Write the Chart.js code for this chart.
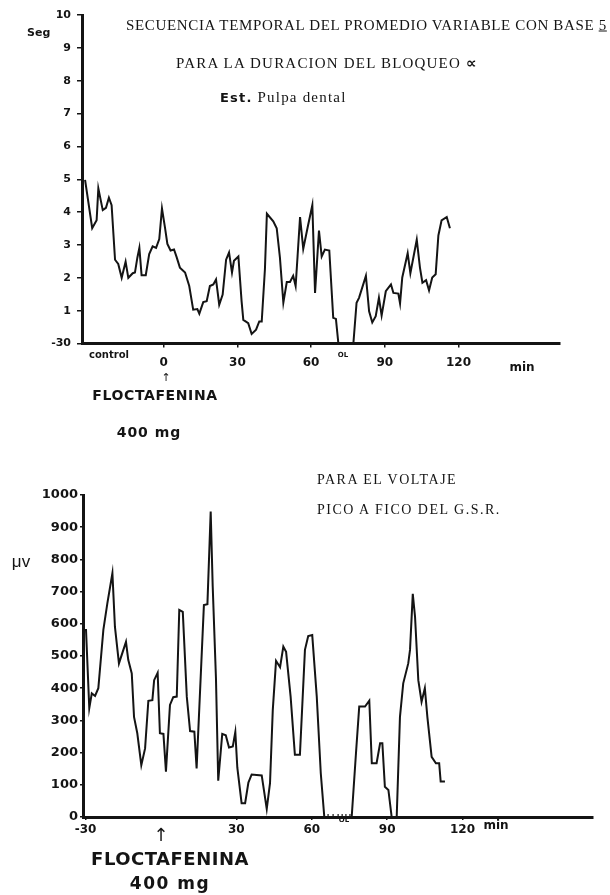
<!DOCTYPE html>
<html>
<head>
<meta charset="utf-8">
<script src="https://cdn.jsdelivr.net/npm/chart.js@4/dist/chart.umd.min.js"></script>
<style>
  html, body { margin: 0; padding: 0; background: #fff; }
  #page { position: relative; width: 610px; height: 895px; overflow: hidden; background: #fff; }
  canvas { position: absolute; left: 0; }
  .t { position: absolute; white-space: nowrap; color: #141414; line-height: 1; }
  .c { transform: translate(-50%, -50%); }
  .l { transform: translate(0, -50%); }
  .serif { font-family: "Liberation Serif", "DejaVu Serif", serif; }
  .sans { font-family: "DejaVu Sans", sans-serif; font-weight: bold; }
</style>
</head>
<body>
<div id="page">
  <canvas id="blockChart" width="610" height="450" style="top:0"></canvas>
  <canvas id="gsrChart" width="610" height="445" style="top:450px"></canvas>

  <!-- upper panel texts -->
  <div class="t l serif" style="left:126px;top:25px;font-size:15px;letter-spacing:0.65px;">SECUENCIA TEMPORAL DEL PROMEDIO VARIABLE CON BASE <u>5</u></div>
  <div class="t l serif" style="left:176px;top:63px;font-size:15px;letter-spacing:1.2px;">PARA LA DURACION DEL BLOQUEO <span class="sans" style="font-size:15px;">&#8733;</span></div>
  <div class="t l serif" style="left:220px;top:97px;font-size:15px;letter-spacing:1.2px;"><span class="sans" style="font-size:13px;">Est.</span> Pulpa dental</div>
  <div class="t l sans" style="left:27px;top:32px;font-size:11px;">Seg</div>
  <div class="t c sans" style="left:109px;top:355px;font-size:10px;">control</div>
  <div class="t c sans" style="left:343px;top:355px;font-size:7px;">OL</div>
  <div class="t c sans" style="left:522px;top:367px;font-size:12px;">min</div>
  <div class="t c" style="left:166px;top:377px;font-size:11px;font-family:'DejaVu Sans';">&#8593;</div>
  <div class="t c sans" style="left:155px;top:395px;font-size:14px;letter-spacing:0.6px;">FLOCTAFENINA</div>
  <div class="t c sans" style="left:149px;top:432px;font-size:14px;letter-spacing:1px;">400 mg</div>

  <!-- lower panel texts -->
  <div class="t l serif" style="left:317px;top:480px;font-size:14px;letter-spacing:1.5px;">PARA EL VOLTAJE</div>
  <div class="t l serif" style="left:317px;top:510px;font-size:14px;letter-spacing:1.5px;">PICO A FICO DEL G.S.R.</div>
  <div class="t c" style="left:21px;top:561px;font-size:17px;font-family:'Liberation Sans';">&mu;v</div>
  <div class="t c sans" style="left:344px;top:820px;font-size:7px;">OL</div>
  <div class="t c sans" style="left:496px;top:825px;font-size:12px;">min</div>
  <div class="t c" style="left:161px;top:835px;font-size:18px;font-family:'DejaVu Sans';">&#8593;</div>
  <div class="t c sans" style="left:170px;top:859px;font-size:18px;letter-spacing:0.5px;">FLOCTAFENINA</div>
  <div class="t c sans" style="left:170px;top:883px;font-size:17px;letter-spacing:1.5px;">400 mg</div>
</div>

<script>
// Block duration (moving average, base 5), seconds vs minutes
const blockMinutes = [
  -32.0, -29.1, -27.3, -26.6, -24.8, -23.5, -22.3, -21.2, -19.8, -18.5,
  -17.1, -15.5, -14.4, -12.6, -11.7, -10.7, -9.9, -9.0, -7.3, -5.9,
  -4.5, -3.1, -1.8, -0.7, 0.5, 1.5, 2.8, 4.2, 5.3, 6.6,
  8.7, 10.4, 12.0, 13.7, 14.5, 16.1, 17.5, 18.8, 20.2, 21.3,
  22.6, 24.0, 25.4, 26.6, 27.8, 28.6, 30.4, 31.7, 32.4, 34.4,
  35.8, 37.6, 38.9, 39.9, 41.2, 42.0, 44.6, 46.0, 47.3, 48.7,
  50.1, 51.4, 52.7, 53.7, 54.5, 55.5, 56.8, 58.6, 60.5, 61.6,
  63.2, 64.3, 65.6, 67.4, 69.0, 70.1, 71.1, 77.2, 78.5, 79.5,
  82.3, 83.6, 84.9, 86.3, 87.6, 88.7, 90.4, 92.5, 93.5, 95.5,
  96.2, 97.1, 99.3, 100.4, 103.0, 104.3, 105.3, 106.8, 108.0, 109.3,
  110.7, 111.8, 113.1, 115.2, 116.5
];
const blockSeconds = [
  4.98, 3.51, 3.75, 4.72, 4.06, 4.13, 4.44, 4.21, 2.55, 2.42,
  2.00, 2.49, 2.00, 2.14, 2.16, 2.62, 2.91, 2.08, 2.08, 2.72,
  2.96, 2.91, 3.18, 4.11, 3.54, 3.03, 2.83, 2.86, 2.62, 2.31,
  2.16, 1.75, 1.03, 1.05, 0.91, 1.26, 1.29, 1.75, 1.80, 1.95,
  1.18, 1.49, 2.55, 2.77, 2.16, 2.52, 2.65, 1.29, 0.72, 0.62,
  0.29, 0.42, 0.67, 0.67, 2.26, 3.95, 3.72, 3.51, 2.62, 1.24,
  1.87, 1.87, 2.06, 1.75, 2.67, 3.85, 2.88, 3.54, 4.21, 1.54,
  3.44, 2.65, 2.86, 2.83, 0.78, 0.75, 0, 0, 1.24, 1.39,
  2.06, 0.98, 0.64, 0.83, 1.39, 0.85, 1.59, 1.80, 1.54, 1.52,
  1.22, 2.01, 2.75, 2.14, 3.16, 2.31, 1.85, 1.93, 1.62, 2.01,
  2.11, 3.29, 3.75, 3.85, 3.51
];
const blockXTicks = [0, 30, 60, 90, 120];
const blockYTicks = [0, 1, 2, 3, 4, 5, 6, 7, 8, 9, 10];

// Peak-to-peak GSR voltage, microvolts vs minutes
const gsrMinutes = [
  -30.9, -29.8, -28.5, -27.5, -26.2, -24.9, -22.9, -21.3, -19.3, -18.3,
  -16.7, -13.9, -13.0, -11.6, -10.7, -9.4, -7.8, -6.3, -5.0, -3.4,
  -2.7, -1.3, -0.4, 1.0, 2.0, 3.6, 4.9, 6.3, 7.3, 8.7,
  10.3, 11.6, 13.3, 14.2, 17.1, 18.5, 19.8, 20.6, 21.9, 22.8,
  24.4, 25.8, 27.1, 28.6, 29.1, 29.6, 30.4, 32.1, 33.5, 34.8,
  36.1, 40.1, 42.1, 43.4, 44.5, 45.8, 47.4, 48.7, 49.8, 51.6,
  53.3, 55.3, 57.3, 58.6, 60.2, 62.0, 63.6, 65.0, 75.9, 77.6,
  78.9, 81.2, 82.9, 83.9, 85.8, 87.2, 88.1, 89.1, 90.5, 91.8,
  93.8, 95.1, 96.4, 98.4, 99.1, 100.2, 101.1, 102.4, 103.7, 105.0,
  106.0, 107.7, 109.4, 110.7, 111.3, 113.0
];
const gsrMicrovolts = [
  581, 581, 338, 384, 376, 400, 581, 664, 757, 591,
  477, 544, 488, 446, 311, 260, 161, 213, 361, 363,
  425, 448, 260, 258, 141, 348, 372, 374, 643, 637,
  373, 267, 265, 151, 658, 661, 949, 717, 430, 113,
  258, 254, 216, 219, 242, 264, 153, 43, 43, 107,
  132, 129, 25, 105, 332, 485, 465, 529, 513, 374,
  193, 193, 519, 562, 565, 374, 136, 0, 0, 198,
  343, 343, 361, 167, 167, 229, 229, 94, 84, 0,
  0, 311, 415, 477, 519, 693, 622, 425, 358, 400,
  311, 187, 167, 167, 110, 110
];
// hatch marks on the baseline of the "OL" interval
const olMarkMinutes = [66.5, 68.5, 70.5, 72.1, 73.6, 75.2];
const gsrXTicks = [-30, 30, 60, 90, 120];
const gsrYTicks = [0, 100, 200, 300, 400, 500, 600, 700, 800, 900, 1000];

const INK = '#141414';
const tickFont = (size) => ({ family: 'DejaVu Sans', weight: 'bold', size: size });

function xyPoints(xs, ys) {
  return xs.map((x, i) => ({ x: x, y: ys[i] }));
}

new Chart(document.getElementById('blockChart'), {
  type: 'line',
  data: {
    datasets: [{
      data: xyPoints(blockMinutes, blockSeconds),
      borderColor: INK,
      borderWidth: 2,
      pointRadius: 0,
      tension: 0,
      fill: false
    }]
  },
  options: {
    responsive: false,
    animation: false,
    layout: { padding: { top: 15, right: 50, left: 0, bottom: 0 } },
    plugins: { legend: { display: false }, tooltip: { enabled: false } },
    scales: {
      x: {
        type: 'linear',
        min: -33.25,
        max: 161.3,
        afterBuildTicks: (s) => { s.ticks = blockXTicks.map(v => ({ value: v })); },
        afterFit: (s) => { s.height = 106.5; },
        ticks: { color: INK, font: tickFont(12), padding: 8, maxRotation: 0, autoSkip: false,
                 callback: (v) => String(v) },
        grid: { drawOnChartArea: false, drawTicks: true, tickLength: 4, color: INK, lineWidth: 1.5 },
        border: { display: true, color: INK, width: 3 }
      },
      y: {
        min: 0,
        max: 10,
        afterBuildTicks: (s) => { s.ticks = blockYTicks.map(v => ({ value: v })); },
        afterFit: (s) => { s.width = 82; },
        ticks: {
          color: INK, font: tickFont(11), padding: 6, autoSkip: false,
          callback: (v) => (v === 0 ? '-30' : String(v))
        },
        grid: { drawOnChartArea: false, drawTicks: true, tickLength: 5, color: INK, lineWidth: 1.5 },
        border: { display: true, color: INK, width: 3 }
      }
    }
  }
});

new Chart(document.getElementById('gsrChart'), {
  type: 'line',
  data: {
    datasets: [{
      data: xyPoints(gsrMinutes, gsrMicrovolts),
      borderColor: INK,
      borderWidth: 2,
      pointRadius: 0,
      tension: 0,
      fill: false
    }, {
      type: 'scatter',
      data: olMarkMinutes.map(x => ({ x: x, y: 0 })),
      showLine: false,
      pointStyle: 'line',
      rotation: 90,
      radius: 3,
      borderColor: INK,
      borderWidth: 1.2
    }]
  },
  options: {
    responsive: false,
    animation: false,
    layout: { padding: { top: 45, right: 17, left: 0, bottom: 0 } },
    plugins: { legend: { display: false }, tooltip: { enabled: false } },
    scales: {
      x: {
        type: 'linear',
        min: -31.0,
        max: 171.9,
        afterBuildTicks: (s) => { s.ticks = gsrXTicks.map(v => ({ value: v })); },
        afterFit: (s) => { s.height = 78; },
        ticks: { color: INK, font: tickFont(12), padding: 3, maxRotation: 0, autoSkip: false,
                 callback: (v) => String(v) },
        grid: { drawOnChartArea: false, drawTicks: true, tickLength: 3, color: INK, lineWidth: 1.5 },
        border: { display: true, color: INK, width: 3 }
      },
      y: {
        min: 0,
        max: 1000,
        afterBuildTicks: (s) => { s.ticks = gsrYTicks.map(v => ({ value: v })); },
        afterFit: (s) => { s.width = 83; },
        ticks: { color: INK, font: tickFont(13), padding: 2, autoSkip: false,
                 callback: (v) => String(v) },
        grid: { drawOnChartArea: false, drawTicks: true, tickLength: 3, color: INK, lineWidth: 1.5 },
        border: { display: true, color: INK, width: 3 }
      }
    }
  }
});
</script>
</body>
</html>
